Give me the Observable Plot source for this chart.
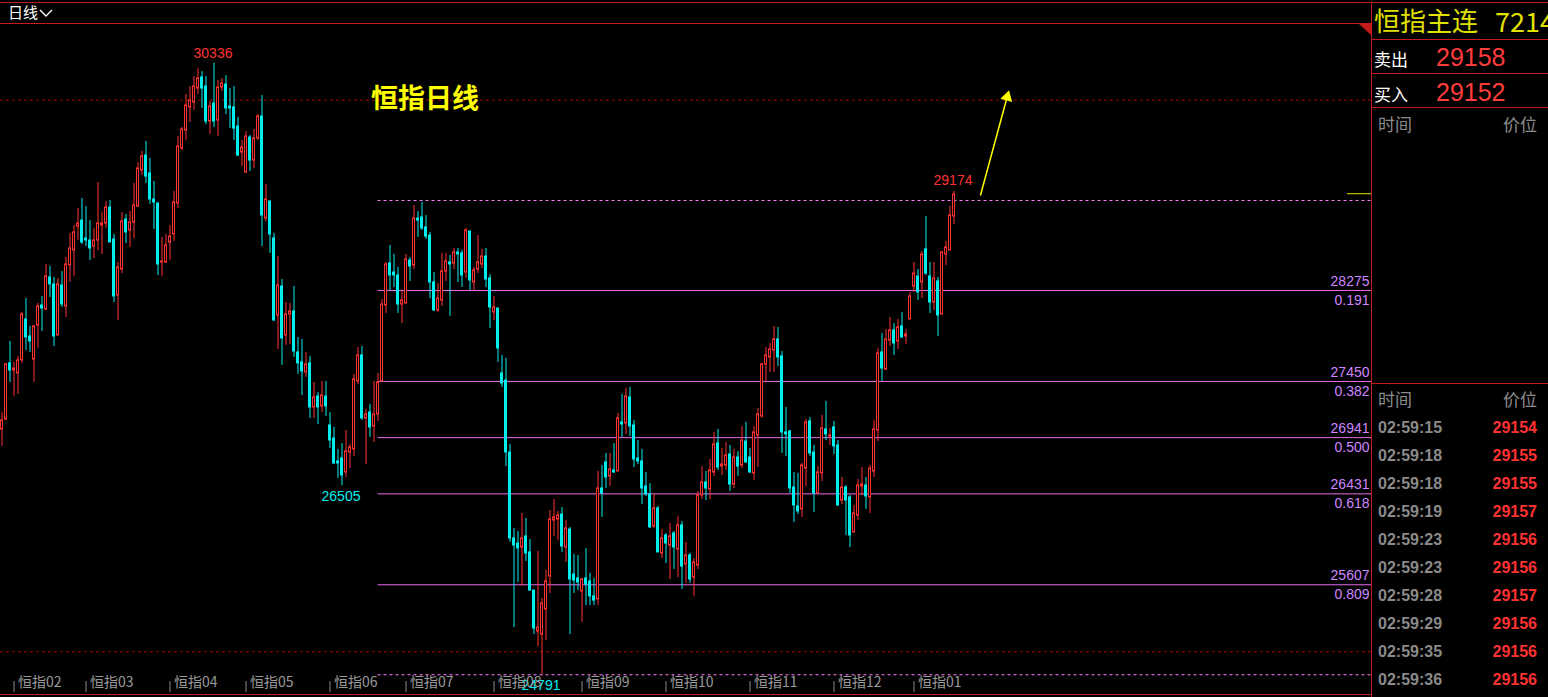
<!DOCTYPE html>
<html>
<head>
<meta charset="utf-8">
<script src="https://cdn.jsdelivr.net/npm/d3@7"></script>
<script src="https://cdn.jsdelivr.net/npm/@observablehq/plot@0.6"></script>
<style>
  html, body { margin: 0; padding: 0; background: #000; overflow: hidden; }
  #wrap { position: relative; width: 1548px; height: 697px; background: #000; }
  #wrap svg { position: absolute; left: 0; top: 0; }
</style>
</head>
<body>
<div id="wrap"></div>
<script>
// ---------------- data ----------------
const candleOpen = [
27015,27105,27614,27550,27523,27641,28012,27858,27649,27958,
28139,28103,28393,28330,27867,28320,28130,28502,28638,28855,
28909,28746,28728,28674,28728,28864,28882,29027,28737,28230,
28465,28918,28819,28891,29036,29363,29499,29336,29100,29064,
28529,28529,28710,28783,29064,29562,29725,29934,29979,30106,
30206,30124,29807,29970,29816,30115,30142,29943,29934,29761,
29526,29345,29662,29453,29653,29852,28927,29082,28746,28049,
28311,27867,28058,28085,27713,27623,27532,27614,27215,27314,
27224,27314,27051,26933,26725,26752,26625,26806,26834,27450,
27686,27115,27169,27042,27151,27450,28139,28520,28438,28411,
28148,28157,28547,28502,28927,28937,28846,28773,28348,28094,
28184,28447,28529,28520,28620,28611,28438,28810,28348,28465,
28511,28583,28384,28076,28112,27523,27459,26806,26027,25981,
25945,26045,25900,25555,25183,25156,25383,25682,26190,26199,
26244,25945,26108,25700,25664,25546,25664,25637,25501,25474,
26480,26716,26589,26643,26634,27079,27069,27305,27051,26752,
26725,26498,26426,26136,26299,25891,26054,25963,26072,25927,
26145,25791,25873,25673,25782,26417,26535,26471,26625,26888,
26679,26689,26788,26516,26761,26689,26906,26761,26616,26960,
27133,27605,27668,27731,27831,27677,26988,26997,26489,26317,
26290,26661,27088,26806,26435,26616,27015,26951,27033,26870,
26371,26489,26399,26081,26235,26498,26507,26399,26634,27006,
27713,27559,27822,27913,27813,27949,27858,28012,28311,28402,
28348,28647,28402,28166,28357,28058,28602,28638,28946];

const candleHigh = [
27169,27614,27813,27623,27677,28076,28202,27949,27958,28157,
28221,28511,28493,28393,28384,28447,28574,28792,28864,29018,
29109,29036,28909,28837,29254,28982,29082,29091,28783,28529,
28982,28964,28991,29245,29435,29535,29626,29471,29263,29064,
28755,28783,28864,29172,29671,29752,30052,30124,30215,30287,
30260,30215,29988,30336,30179,30197,30224,30106,30124,29843,
29635,29716,29680,29734,29870,30043,29236,29082,28792,28583,
28375,28166,28157,28311,27849,27831,27713,27677,27441,27351,
27450,27450,27169,27033,26834,26888,27006,26879,27514,27758,
27767,27196,27242,27450,27523,28193,28529,28683,28602,28484,
28266,28602,28574,29045,28991,29073,28955,28801,28438,28339,
28611,28611,28592,28656,28656,28638,28837,28810,28484,28773,
28647,28656,28420,28221,28112,27686,27659,26879,26118,26090,
26254,26208,26018,25555,25909,25483,25737,26281,26380,26272,
26308,26190,26127,25882,25873,25664,25936,25709,25664,26634,
26689,26797,26797,26888,27160,27332,27387,27396,27097,26915,
26834,26625,26525,26426,26317,26108,26072,26163,26090,26226,
26181,25991,25891,25846,26453,26679,26634,26743,26988,27015,
26843,26897,26870,26834,26815,27042,27079,26843,27042,27205,
27614,27758,27795,27949,27940,27722,27215,27006,26625,26616,
26707,27106,27124,26870,26679,27142,27269,27024,27088,26915,
26580,26507,26417,26326,26562,26670,26580,26689,27097,27749,
27885,27922,28030,27976,28012,28076,27922,28257,28529,28465,
28629,28946,28529,28529,28393,28629,28719,29036,29174];

const candleLow = [
26861,27097,27441,27314,27332,27614,27731,27713,27441,27749,
27904,28094,28212,27767,27867,28121,28030,28348,28402,28728,
28692,28674,28547,28565,28638,28602,28837,28710,28166,28003,
28429,28701,28665,28746,29027,29317,29245,29055,28828,28411,
28402,28520,28547,28719,29018,29544,29635,29798,29907,30052,
29925,29779,29689,29752,29671,30079,29870,29743,29635,29490,
29399,29336,29354,29381,29635,28674,28900,28611,27994,27740,
27595,27777,27786,27668,27514,27323,27487,27115,27115,27060,
27169,27133,26843,26698,26571,26505,26580,26661,26770,27423,
27097,26698,26942,26897,27088,27450,28067,28275,28302,28067,
27976,28157,28357,28465,28755,28819,28737,28202,28085,28076,
28130,28357,28040,28465,28348,28302,28384,28275,28275,28429,
28474,28302,27931,28003,27623,27396,26679,25991,25219,25628,
25591,25818,25546,25156,25047,24791,25102,25528,26045,26009,
25900,25809,25156,25528,25555,25265,25419,25419,25419,25419,
26217,26480,26498,26616,26634,26942,26970,26951,26670,26698,
26335,26408,26118,26118,25900,25846,25800,25655,25746,25673,
25564,25619,25619,25501,25746,26380,26371,26380,26589,26643,
26598,26643,26453,26480,26589,26661,26707,26616,26553,26670,
27115,27450,27532,27532,27586,26797,26770,26435,26172,26244,
26217,26498,26770,26263,26435,26543,26915,26870,26788,26317,
26335,26054,25945,26081,26190,26417,26290,26254,26580,26906,
27450,27550,27767,27686,27740,27840,27786,28012,28257,28184,
28202,28411,28067,28094,27858,28058,28502,28638,28873];

const candleClose = [
27097,27605,27550,27568,27641,28058,27849,27813,27949,28130,
28112,28402,28330,27858,28330,28148,28511,28656,28801,28882,
28710,28728,28656,28728,28882,28882,29027,28710,28221,28484,
28900,28801,28891,29045,29381,29490,29308,29100,29073,28511,
28538,28683,28764,29073,29580,29734,29952,29997,30124,30197,
30106,29807,29943,29807,30115,30151,29925,29925,29743,29499,
29571,29671,29453,29653,29852,28955,29100,28783,28003,28320,
27840,28058,28085,27722,27614,27541,27605,27215,27305,27215,
27323,27224,26915,26707,26707,26598,26815,26852,27468,27686,
27115,27151,27033,27151,27441,28148,28511,28411,28411,28148,
28184,28556,28493,28927,28909,28837,28764,28348,28094,28202,
28447,28538,28511,28620,28602,28411,28819,28366,28456,28529,
28583,28375,28121,28121,27749,27432,26806,26027,25963,25936,
26027,25891,25555,25210,25219,25437,25637,26199,26217,26235,
25954,26118,25655,25646,25628,25655,25609,25501,25464,26480,
26435,26580,26652,26625,27115,27060,27314,27042,26743,26725,
26480,26426,26127,26299,25900,26027,25981,26045,25945,26145,
25773,25873,25655,25809,26417,26535,26480,26643,26879,26670,
26698,26779,26516,26761,26679,26915,26716,26625,26988,27151,
27605,27686,27740,27831,27668,26988,26970,26480,26326,26272,
26689,27079,26797,26435,26625,27024,26970,26960,26861,26326,
26489,26371,26054,26254,26507,26516,26408,26661,27015,27704,
27568,27831,27913,27795,27940,27849,27876,28221,28429,28257,
28601,28429,28166,28384,28049,28620,28665,28955,29145];

const monthLabels = ["恒指02","恒指03","恒指04","恒指05","恒指06","恒指07","恒指08","恒指09","恒指10","恒指11","恒指12","恒指01"];
const monthStart  = [3, 21, 42, 61, 82, 101, 123, 145, 166, 187, 208, 228];

const fibPrices = [28275, 27450, 26941, 26431, 25607];
const fibRatios = ["0.191", "0.382", "0.500", "0.618", "0.809"];
const fibBounds = [29091, 24791];   // dashed top / bottom of the retracement
const fibStartIndex = 94;
const guideLevels = [30000, 25000];  // dark red dashed guides
const lastPrice = 29152;

const highLabel = {i: 53, price: 30336};
const recentHighLabel = {i: 238, price: 29174};
const lowLabels = [{i: 85, price: 26505}, {i: 135, price: 24791}];
const arrowAnno = [{x1: 244.6, y1: 29136, x2: 251.6, y2: 30070}];

const symbolName = "恒指主连";
const symbolValue = "7214";
const askPrice = 29158;
const bidPrice = 29152;
const tickTimes  = ["02:59:15","02:59:18","02:59:18","02:59:19","02:59:23","02:59:23","02:59:28","02:59:29","02:59:35","02:59:36"];
const tickPrices = [29154, 29155, 29155, 29157, 29156, 29156, 29157, 29156, 29156, 29156];

// ---------------- chart ----------------
const RED = "#ff3232", CYAN = "#00eeee", FIB = "#e96ae9", FIBTXT = "#cf86ff";
const candles = candleOpen.map((o, i) => ({i, o, h: candleHigh[i], l: candleLow[i], c: candleClose[i]}));
const up = candles.filter(d => d.c >= d.o);
const down = candles.filter(d => d.c < d.o);
const months = monthLabels.map((label, k) => ({label, i: monthStart[k]}));
const fib = fibPrices.map((p, k) => ({p, r: fibRatios[k]}));
const xMax = 342.375;

const chart = Plot.plot({
  width: 1371,
  height: 697,
  margin: 0,
  x: {domain: [-0.375, xMax], axis: null},
  y: {domain: [24585, 30904], axis: null},
  style: {background: "#000", fontFamily: "Liberation Sans, Arial, sans-serif", overflow: "visible"},
  marks: [
    Plot.ruleY(guideLevels, {stroke: "#a80000", strokeDasharray: "3,3"}),
    Plot.ruleY(fib, {y: "p", x1: () => fibStartIndex, x2: () => xMax, stroke: FIB}),
    Plot.ruleY(fibBounds, {x1: () => fibStartIndex, x2: () => xMax, stroke: "#ff80ff", strokeDasharray: "3,3"}),
    Plot.text(fib, {y: "p", text: d => String(d.p), frameAnchor: "right", textAnchor: "end", dx: -2, dy: -9, fill: FIBTXT, fontSize: 14}),
    Plot.text(fib, {y: "p", text: "r", frameAnchor: "right", textAnchor: "end", dx: -2, dy: 10, fill: FIBTXT, fontSize: 14}),
    Plot.ruleX(up, {x: "i", y1: "l", y2: "h", stroke: RED, strokeWidth: 1}),
    Plot.ruleX(down, {x: "i", y1: "l", y2: "h", stroke: CYAN, strokeWidth: 1}),
    Plot.rect(up, {x1: d => d.i - 0.25, x2: d => d.i + 0.25, y1: "o", y2: "c", fill: "#000", stroke: RED, strokeWidth: 1}),
    Plot.rect(down, {x1: d => d.i - 0.25, x2: d => d.i + 0.25, y1: "o", y2: "c", fill: CYAN, stroke: CYAN, strokeWidth: 1}),
    Plot.text([highLabel], {x: "i", y: "price", text: d => String(d.price), dy: -10, dx: -1, fill: RED, fontSize: 14}),
    Plot.text([recentHighLabel], {x: "i", y: "price", text: d => String(d.price), dy: -11, dx: -1, fill: RED, fontSize: 14}),
    Plot.text(lowLabels, {x: "i", y: "price", text: d => String(d.price), dy: 11, dx: -1, fill: CYAN, fontSize: 14}),
    Plot.ruleX(months, {x: "i", insetTop: 681, insetBottom: 5, stroke: "#8a8a8a"}),
    Plot.text(months, {x: "i", text: "label", frameAnchor: "bottom", dy: -11, dx: 4, textAnchor: "start", fill: "#9a9a9a", fontSize: 14, fontFamily: "Noto Sans CJK SC, sans-serif"}),
    Plot.ruleY([lastPrice], {insetLeft: 1347, stroke: "#e6e600"}),
    Plot.link(arrowAnno, {x1: "x1", y1: "y1", x2: "x2", y2: "y2", stroke: "#ffff00", strokeWidth: 1.5}),
    Plot.dot(arrowAnno, {x: "x2", y: "y2", symbol: "triangle", r: 4.5, rotate: 15, dx: -1.2, dy: 4.5, fill: "#ffff00", stroke: "none"})
  ]
});
const wrap = document.getElementById("wrap");
wrap.appendChild(chart);

// ---------------- frame & quote panel ----------------
const LINE = "#c41c1c";
const W = 1548, H = 697, PX = 1371;
const ov = d3.select(wrap).append("svg").attr("width", W).attr("height", H).style("pointer-events", "none");
const hl = (x1, x2, y) => ov.append("line").attr("x1", x1).attr("x2", x2).attr("y1", y).attr("y2", y).attr("stroke", LINE);
hl(0, W, 2.5);
hl(0, PX, 23.5);
hl(0, PX, 694.5);
[39.5, 73.5, 107.5, 383.5].forEach(y => hl(PX, W, y));
ov.append("line").attr("x1", PX + 0.5).attr("x2", PX + 0.5).attr("y1", 2).attr("y2", H).attr("stroke", LINE);
ov.append("path").attr("d", `M1359,24 L${PX},24 L${PX},35 Z`).attr("fill", LINE);

const cjk = "Noto Sans CJK SC, sans-serif";
const sans = "Liberation Sans, Arial, sans-serif";
const txt = (x, y, s, size, fill, family, anchor = "start", weight = "normal") =>
  ov.append("text").attr("x", x).attr("y", y).text(s).attr("font-size", size).attr("fill", fill)
    .attr("font-family", family).attr("text-anchor", anchor).attr("font-weight", weight);

// header
txt(8, 18, "日线", 15, "#ffffff", cjk);
ov.append("path").attr("d", "M40,10 L46,16 L52,10").attr("fill", "none").attr("stroke", "#fff").attr("stroke-width", 1.4);
// chart title
txt(371, 108, "恒指日线", 27, "#ffff00", cjk, "start", "bold");

// quote panel
txt(1374, 31, symbolName, 26, "#e2e200", cjk);
txt(1495, 32, symbolValue, 27, "#e2e200", cjk);
txt(1374, 66, "卖出", 17, "#ffffff", cjk);
txt(1436, 66, String(askPrice), 25, "#ff3c3c", sans);
txt(1374, 101, "买入", 17, "#ffffff", cjk);
txt(1436, 101, String(bidPrice), 25, "#ff3c3c", sans);
txt(1378, 131, "时间", 17, "#8c8c8c", cjk);
txt(1537, 131, "价位", 17, "#8c8c8c", cjk, "end");
txt(1378, 406, "时间", 17, "#8c8c8c", cjk);
txt(1537, 406, "价位", 17, "#8c8c8c", cjk, "end");
tickTimes.forEach((t, k) => {
  txt(1378, 433 + 28 * k, t, 16, "#8a8a8a", sans, "start", "bold");
  txt(1537, 433 + 28 * k, String(tickPrices[k]), 16, "#ff3232", sans, "end", "bold");
});
</script>
</body>
</html>
